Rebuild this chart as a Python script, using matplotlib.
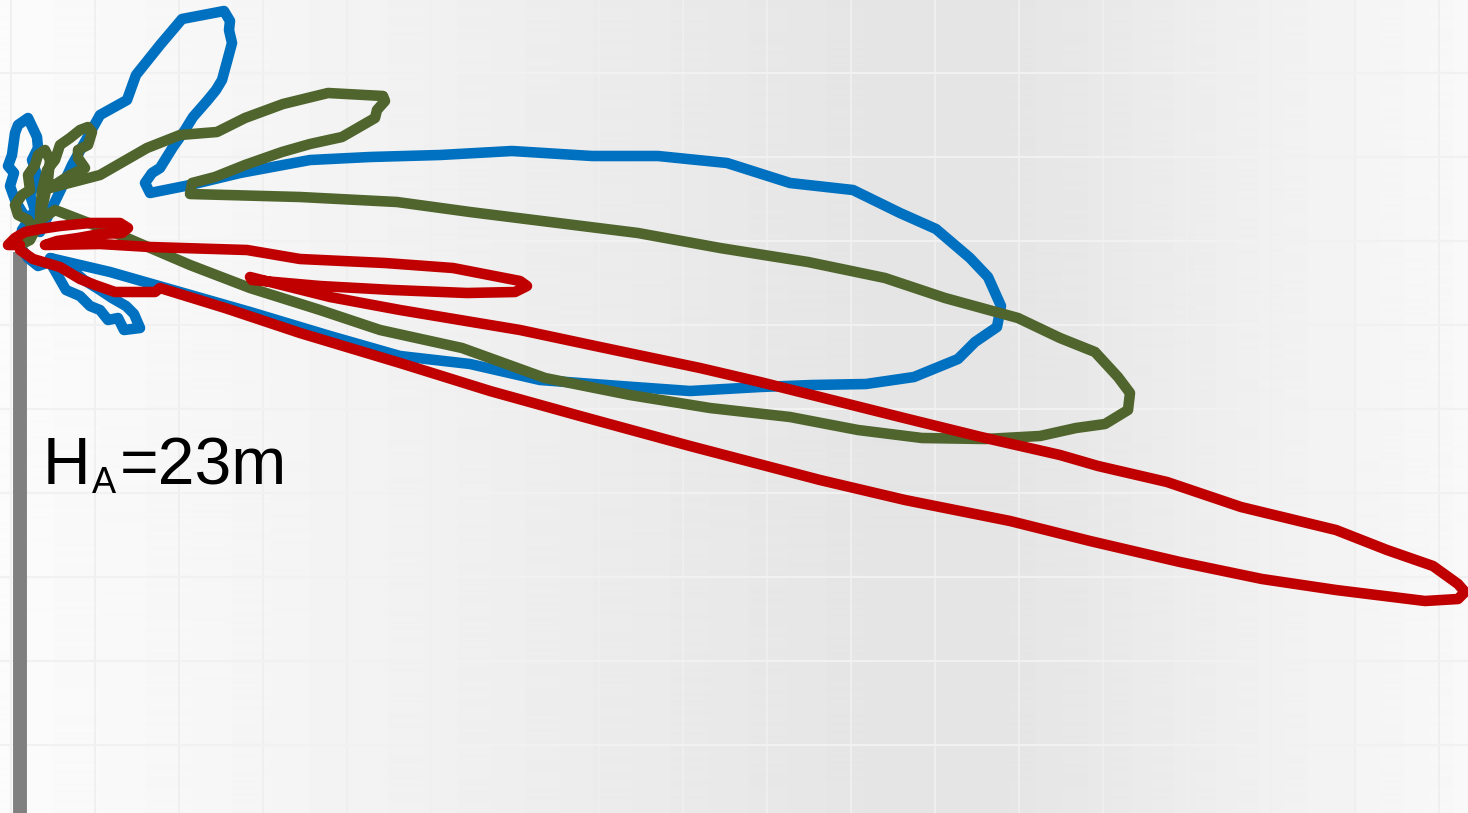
import numpy as np
import matplotlib.pyplot as plt

# Radiation patterns around the mast top, plotted in the panel's own x/y units
blue_x = [20, 28, 38, 50, 58, 66, 80, 90, 100, 108, 118, 124, 140, 134, 126, 112, 100, 84, 70,
          50, 110, 180, 250, 330, 400, 470, 540, 620, 690, 760, 812, 866, 914, 958, 975, 997,
          1001, 988, 970, 936, 900, 853, 790, 727, 658, 592, 512, 440, 370, 310, 240, 190, 150,
          145, 152, 160, 173, 185, 193, 207, 216, 222, 228, 232, 229, 230, 224, 182, 160, 136,
          127, 100, 86, 72, 62, 50, 40, 30, 22, 15, 10, 14, 8, 12, 15, 18, 28, 37, 38, 32, 38,
          30, 35, 22, 20]
blue_y = [246, 258, 266, 262, 276, 290, 296, 306, 310, 320, 318, 330, 328, 314, 306, 298, 290,
          280, 268, 258, 272, 292, 312, 336, 356, 364, 380, 386, 391, 387, 385, 384, 377, 359,
          342, 327, 306, 277, 258, 229, 213, 190, 183, 163, 156, 156, 151, 155, 157, 160, 173,
          185, 193, 183, 173, 168, 147, 130, 117, 101, 90, 80, 58, 43, 30, 21, 11, 19, 45, 75,
          100, 115, 140, 165, 187, 212, 232, 222, 212, 200, 186, 173, 166, 155, 133, 125, 118,
          137, 148, 160, 178, 195, 210, 230, 246]

green_x = [20, 35, 28, 18, 15, 22, 30, 28, 35, 38, 45, 50, 48, 44, 40, 42, 47, 55, 60, 70, 80,
           88, 92, 88, 78, 78, 85, 70, 50, 100, 147, 180, 217, 245, 283, 328, 383, 385, 377, 375,
           342, 310, 282, 245, 215, 192, 190, 300, 397, 470, 550, 638, 720, 808, 885, 945, 1018,
           1060, 1095, 1118, 1130, 1128, 1105, 1076, 1040, 985, 922, 858, 790, 710, 630, 545,
           462, 380, 320, 250, 190, 120, 55, 40, 30, 20]
green_y = [245, 232, 220, 215, 205, 195, 190, 175, 165, 155, 150, 160, 180, 200, 215, 190, 170,
           160, 145, 138, 130, 127, 132, 145, 150, 158, 168, 175, 188, 175, 148, 135, 132, 118,
           104, 93, 96, 101, 110, 118, 137, 144, 152, 165, 177, 183, 194, 197, 202, 212, 222,
           233, 248, 262, 278, 298, 318, 338, 352, 377, 393, 410, 424, 428, 436, 439, 438, 430,
           417, 408, 395, 378, 348, 330, 310, 288, 265, 235, 210, 220, 240, 245]

red_x = [20, 8, 15, 25, 40, 60, 90, 120, 128, 122, 100, 78, 57, 45, 100, 150, 247, 300, 385,
         453, 520, 527, 515, 467, 393, 320, 252, 250, 330, 400, 520, 600, 700, 760, 840, 900,
         981, 1060, 1098, 1167, 1241, 1336, 1387, 1433, 1458, 1465, 1458, 1425, 1336, 1262,
         1180, 1090, 1010, 905, 820, 690, 580, 490, 400, 300, 225, 160, 155, 115, 95, 80, 60,
         33, 20]
red_y = [245, 245, 238, 232, 229, 226, 223, 223, 228, 233, 234, 238, 241, 245, 244, 247, 250,
         259, 263, 268, 281, 286, 292, 293, 290, 286, 280, 277, 297, 310, 330, 347, 368, 382,
         402, 417, 437, 455, 466, 482, 507, 530, 550, 566, 584, 592, 599, 601, 590, 579, 562,
         541, 521, 500, 480, 446, 416, 391, 363, 333, 308, 288, 292, 292, 285, 279, 267, 259,
         250]

# Horizontal shading of the backdrop
shade_x = [0, 200, 400, 600, 800, 900, 1000, 1100, 1250, 1468]
shade_v = [0.985, 0.968, 0.948, 0.925, 0.905, 0.895, 0.897, 0.912, 0.94, 0.975]

W, H = 1468, 813
fig = plt.figure(figsize=(W / 100, H / 100), dpi=100)
ax = fig.add_axes([0, 0, 1, 1])
ax.set_xlim(0, W)
ax.set_ylim(H, 0)
ax.axis('off')

xs = np.arange(W)
row = np.interp(xs, shade_x, shade_v)
bg = np.tile(row, (H, 1))
ax.imshow(bg, cmap='gray', vmin=0, vmax=1, extent=(0, W, H, 0), aspect='auto', zorder=0)

for gx in range(11, W, 84):
    ax.axvline(gx, color='#efefef', lw=1.3, zorder=1)
for gy in range(73, H, 84):
    ax.axhline(gy, color='#f1f1f1', lw=1.5, zorder=1)

# mast
ax.plot([20, 20], [252, H], color='#808080', lw=10, solid_capstyle='butt', zorder=2)

style = dict(lw=7.6, solid_joinstyle='round', solid_capstyle='round')
ax.plot(blue_x, blue_y, color='#0070C0', zorder=3, **style)
ax.plot(green_x, green_y, color='#50652D', zorder=4, **style)
ax.plot(red_x, red_y, color='#C00000', zorder=5, **style)

font = 'Liberation Sans'
ax.text(43, 484, 'H', fontsize=47.5, family=font, va='baseline', ha='left', zorder=6)
ax.text(92, 493, 'A', fontsize=26, family=font, va='baseline', ha='left', zorder=6)
ax.text(120, 484, '=23m', fontsize=47.5, family=font, va='baseline', ha='left', zorder=6)

fig.savefig('out.png', dpi=100)
